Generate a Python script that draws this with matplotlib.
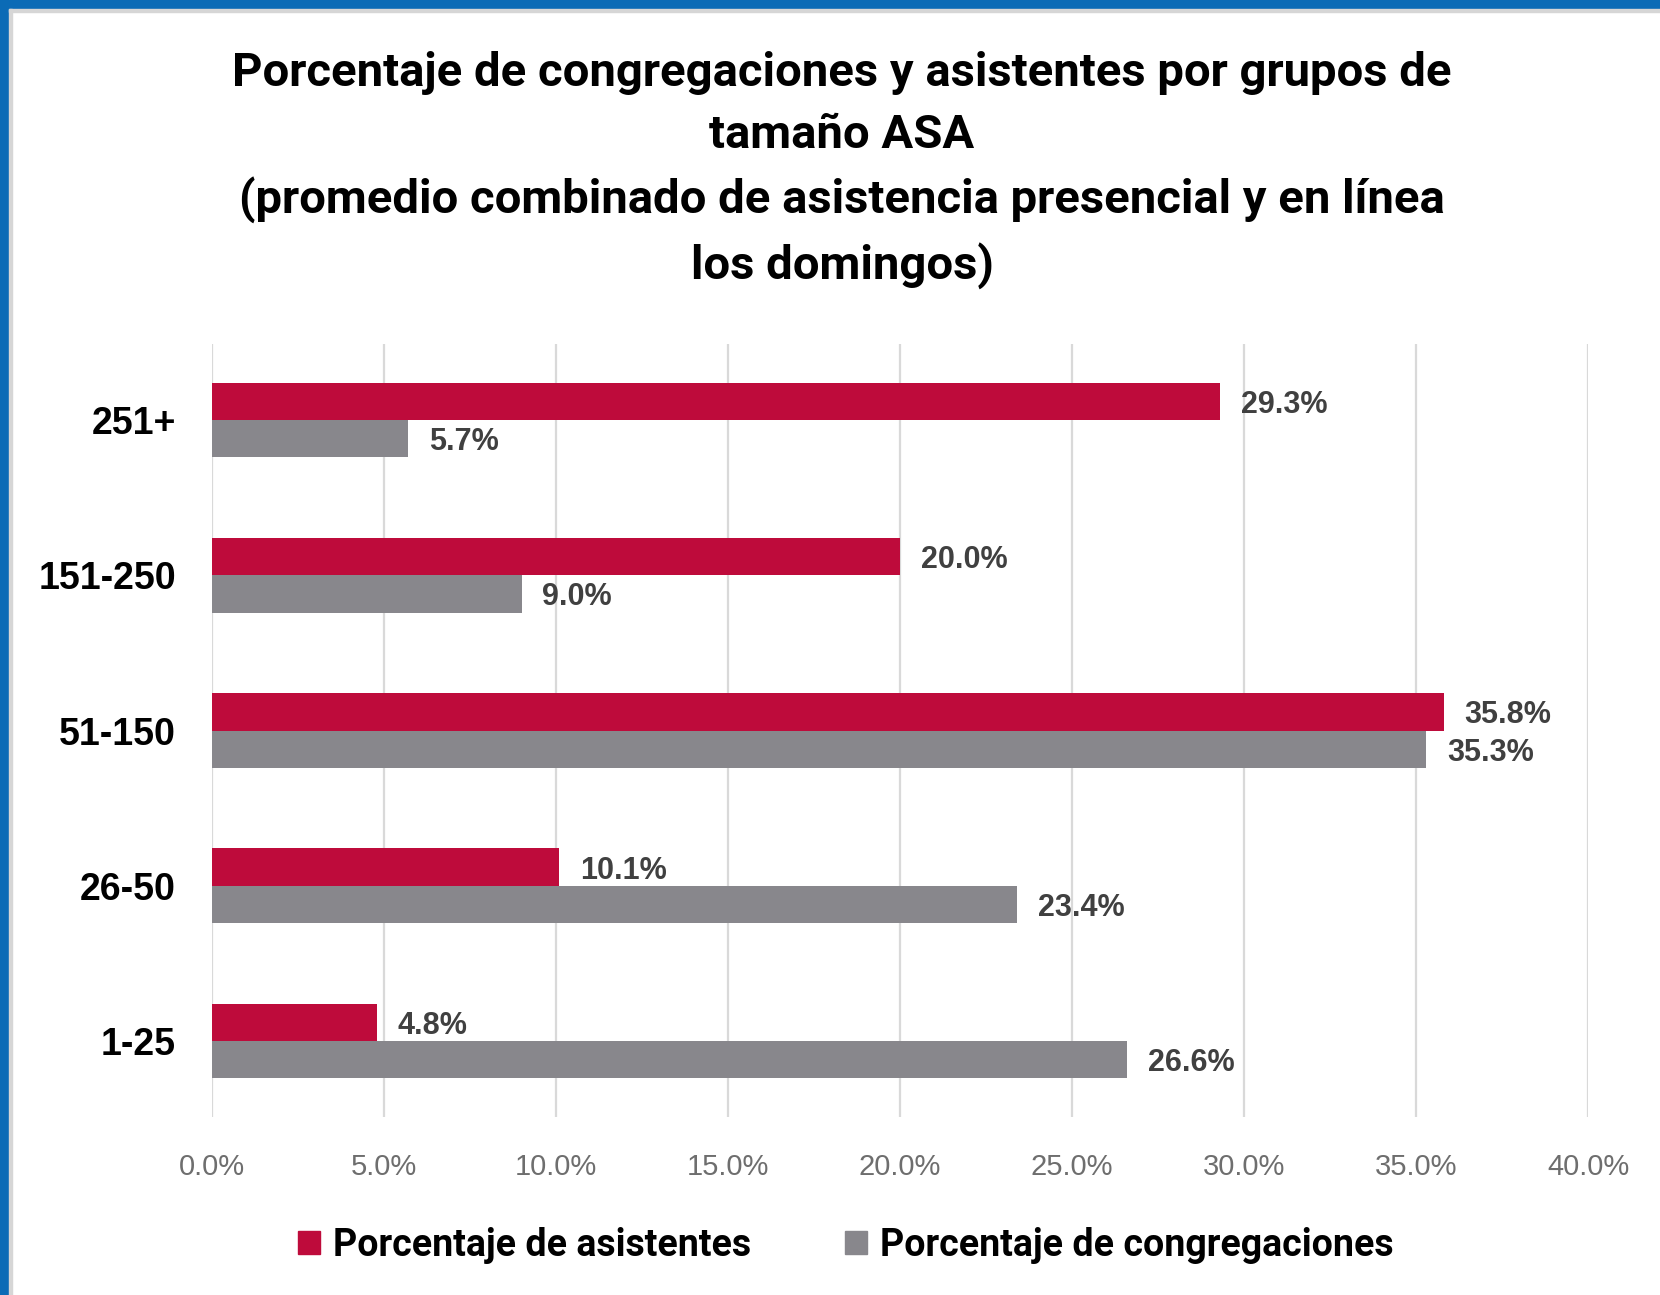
import matplotlib.pyplot as plt
from matplotlib.patches import Patch, Rectangle

# data (bottom to top, as in the chart)
groups = ["1-25", "26-50", "51-150", "151-250", "251+"]
asistentes = [4.8, 10.1, 35.8, 20.0, 29.3]
congregaciones = [26.6, 23.4, 35.3, 9.0, 5.7]
xticks = [0, 5, 10, 15, 20, 25, 30, 35, 40]

red = "#BE0B3B"
grey = "#88878C"

W, H = 1660, 1295
fig = plt.figure(figsize=(W / 100, H / 100), dpi=100)
fig.patch.set_facecolor("white")

# blue frame (top + left) with thin light inner line
fig.patches.append(Rectangle((0, 1 - 9 / H), 1, 9 / H, transform=fig.transFigure,
                             color="#0B6BB6", zorder=0))
fig.patches.append(Rectangle((0, 0), 9 / W, 1, transform=fig.transFigure,
                             color="#0B6BB6", zorder=0))
fig.patches.append(Rectangle((9 / W, 0), 3 / W, 1 - 9 / H, transform=fig.transFigure,
                             color="#D6D6D6", zorder=0))
fig.patches.append(Rectangle((9 / W, 1 - 12 / H), 1, 3 / H, transform=fig.transFigure,
                             color="#D6D6D6", zorder=0))

ax = fig.add_axes([212 / W, 1 - 1117 / H, (1588 - 212) / W, (1117 - 344) / H])

y = list(range(len(groups)))
h = 0.24
b1 = ax.barh([i + h / 2 for i in y], asistentes, height=h, color=red, zorder=3)
b2 = ax.barh([i - h / 2 for i in y], congregaciones, height=h, color=grey, zorder=3)

for bars, vals in [(b1, asistentes), (b2, congregaciones)]:
    for bar, v in zip(bars, vals):
        ax.annotate(f"{v:.1f}%", (v, bar.get_y() + bar.get_height() / 2),
                    xytext=(15, 0), textcoords="offset points",
                    va="center_baseline", ha="left",
                    fontsize=22, fontweight="bold", color="#404040",
                    family="Liberation Sans")

ax.set_xlim(0, 40)
ax.set_ylim(-0.49, 4.49)
ax.set_xticks(xticks)
ax.set_xticklabels([f"{t:.1f}%" for t in xticks], fontsize=21, color="#6E6E6E",
                   family="Liberation Sans")
ax.set_yticks(y)
ax.set_yticklabels(groups, fontsize=27, fontweight="bold", color="black",
                   family="Liberation Sans")
ax.tick_params(axis="x", length=0, pad=26)
ax.tick_params(axis="y", length=0, pad=26)
ax.grid(axis="x", color="#D9D9D9", linewidth=1.6, zorder=0)
for s in ax.spines.values():
    s.set_visible(False)

fig.text(842 / W, 1 - 170 / H,
         "Porcentaje de congregaciones y asistentes por grupos de\n"
         "tamaño ASA\n"
         "(promedio combinado de asistencia presencial y en línea\n"
         "los domingos)",
         ha="center", va="center", fontsize=34, fontweight="bold",
         family="Roboto", linespacing=1.515, color="black")

handles = [Patch(color=red), Patch(color=grey)]
fig.legend(handles, ["Porcentaje de asistentes", "Porcentaje de congregaciones"],
           loc="center", bbox_to_anchor=(846 / W, 1 - 1245 / H), ncol=2,
           frameon=False, prop={"family": "Roboto", "weight": "bold", "size": 27},
           handlelength=0.58, handleheight=0.58, handletextpad=0.36,
           columnspacing=2.5)

fig.savefig("out.png", dpi=100)
